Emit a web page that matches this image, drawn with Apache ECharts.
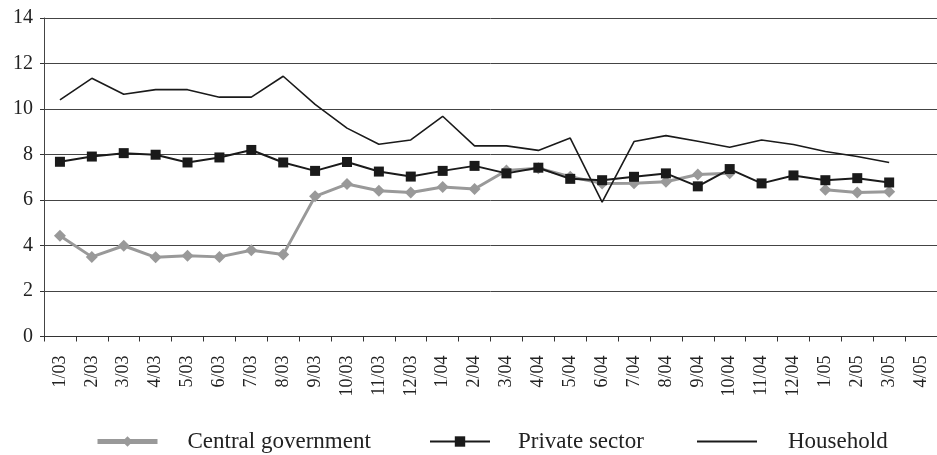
<!DOCTYPE html>
<html><head><meta charset="utf-8">
<script src="https://cdn.jsdelivr.net/npm/echarts@6/dist/echarts.min.js"></script>
<style>html,body{margin:0;padding:0;background:#fff}#c{width:937px;height:455px}</style>
</head><body><div id="c"></div>
<script>
const categories = ['1/03','2/03','3/03','4/03','5/03','6/03','7/03','8/03','9/03','10/03','11/03','12/03',
  '1/04','2/04','3/04','4/04','5/04','6/04','7/04','8/04','9/04','10/04','11/04','12/04',
  '1/05','2/05','3/05','4/05'];
const centralGovernment = [4.43,3.5,3.99,3.48,3.55,3.5,3.79,3.6,6.16,6.7,6.41,6.33,
  6.57,6.48,7.3,7.4,7.02,6.73,6.74,6.8,7.12,7.18,null,null,6.45,6.33,6.36,null];
const privateSector = [7.68,7.91,8.06,7.99,7.65,7.87,8.2,7.65,7.28,7.67,7.25,7.03,
  7.28,7.5,7.17,7.42,6.93,6.87,7.02,7.17,6.6,7.36,6.73,7.08,6.87,6.96,6.77,null];
const household = [10.4,11.35,10.65,10.85,10.85,10.52,10.52,11.44,10.2,9.16,8.45,8.64,
  9.68,8.38,8.38,8.18,8.72,5.91,8.57,8.83,8.58,8.32,8.64,8.44,8.13,7.91,7.65,null];
const yTicks = {min:0, max:14, interval:2};

const font = 'Liberation Serif, Times New Roman, serif';
const chart = echarts.init(document.getElementById('c'), null, {renderer:'canvas'});
function leg(name, left, pad, extra){
  return Object.assign({data:[name], left:left, top:430, itemWidth:60, itemHeight:13, padding:0,
    selectedMode:false,
    textStyle:{fontFamily:font, fontSize:23, color:'#222', padding:[0,0,0,pad]}}, extra||{});
}
chart.setOption({
  animation:false,
  backgroundColor:'#fff',
  grid:{left:44, right:0, top:18, height:318.5, containLabel:false},
  legend:[
    leg('Central government',95,25,{lineStyle:{width:5}}),
    leg('Private sector',429,23),
    leg('Household',696,26,{itemStyle:{opacity:0}, lineStyle:{width:2, opacity:1}})
  ],
  xAxis:{type:'category', data:categories, boundaryGap:true,
    axisLine:{lineStyle:{color:'#333', width:1}},
    axisTick:{show:true, length:5, lineStyle:{color:'#333'}},
    axisLabel:{rotate:90, margin:19, interval:0, fontFamily:font, fontSize:18, color:'#222'}},
  yAxis:{type:'value', min:yTicks.min, max:yTicks.max, interval:yTicks.interval,
    axisLine:{show:true, lineStyle:{color:'#444', width:1}},
    axisTick:{show:true, length:4, lineStyle:{color:'#333'}},
    axisLabel:{margin:11, fontFamily:font, fontSize:20, color:'#222'},
    splitLine:{lineStyle:{color:'#444', width:1}}},
  series:[
    {name:'Central government', type:'line', data:centralGovernment, connectNulls:false,
      symbol:'diamond', symbolSize:12, showSymbol:true,
      lineStyle:{color:'#999', width:3}, itemStyle:{color:'#999'}, z:2},
    {name:'Private sector', type:'line', data:privateSector,
      symbol:'rect', symbolSize:10,
      lineStyle:{color:'#1a1a1a', width:2}, itemStyle:{color:'#1a1a1a'}, z:3},
    {name:'Household', type:'line', data:household,
      symbol:'none', showSymbol:false,
      lineStyle:{color:'#1a1a1a', width:1.6}, itemStyle:{color:'#1a1a1a'}, z:4}
  ]
});
</script></body></html>
